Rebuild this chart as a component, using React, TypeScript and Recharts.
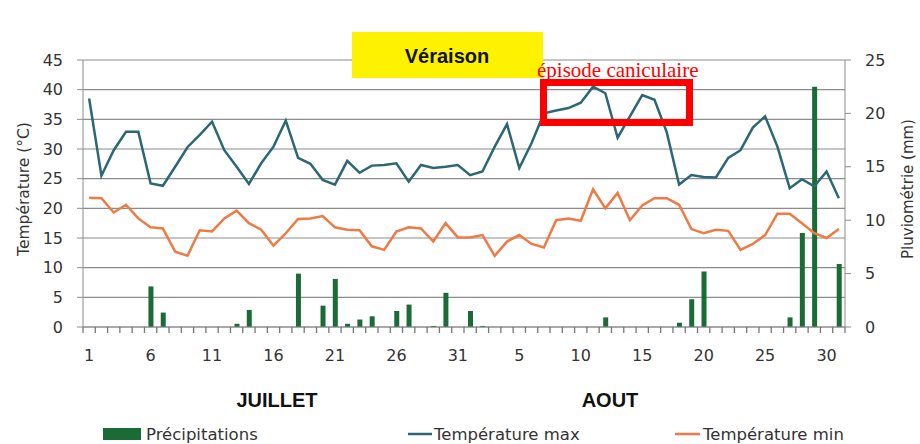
import React from "react";
import { ComposedChart, Bar, Line, XAxis, YAxis, CartesianGrid } from "recharts";

// days of July then August
const julyDays = [1, 2, 3, 4, 5, 6, 7, 8, 9, 10, 11, 12, 13, 14, 15, 16, 17, 18, 19, 20, 21, 22, 23, 24, 25, 26, 27, 28, 29, 30, 31];
const augustDays = [1, 2, 3, 4, 5, 6, 7, 8, 9, 10, 11, 12, 13, 14, 15, 16, 17, 18, 19, 20, 21, 22, 23, 24, 25, 26, 27, 28, 29, 30, 31];

const tempMax = [
  38.5, 25.5, 29.8, 32.9, 32.9, 24.2, 23.8, 27.0, 30.3, 32.4, 34.6, 29.8, 27.0, 24.1, 27.6, 30.4,
  34.8, 28.5, 27.5, 24.8, 24.0, 28.0, 26.0, 27.2, 27.3, 27.6, 24.5, 27.3, 26.8, 27.0, 27.3,
  25.6, 26.2, 30.4, 34.2, 26.8, 31.0, 36.0, 36.5, 36.9, 37.8, 40.5, 39.4, 31.9, 35.5, 39.1, 38.3,
  32.8, 24.0, 25.6, 25.3, 25.2, 28.5, 29.8, 33.6, 35.5, 30.4, 23.4, 24.9, 23.7, 26.2, 21.7,
];

const tempMin = [
  21.8, 21.7, 19.3, 20.6, 18.3, 16.8, 16.6, 12.7, 12.0, 16.3, 16.1, 18.3, 19.6, 17.5, 16.4, 13.7,
  15.8, 18.2, 18.3, 18.7, 16.8, 16.4, 16.3, 13.6, 13.0, 16.1, 16.8, 16.6, 14.4, 17.5, 15.1,
  15.1, 15.5, 12.0, 14.4, 15.5, 14.0, 13.4, 18.0, 18.3, 17.9, 23.2, 20.0, 22.6, 18.0, 20.5, 21.7,
  21.7, 20.6, 16.5, 15.8, 16.4, 16.2, 13.0, 14.0, 15.5, 19.1, 19.1, 17.5, 15.8, 15.0, 16.5,
];

const rain = [
  0, 0, 0, 0, 0, 3.8, 1.35, 0, 0, 0, 0, 0, 0.3, 1.6, 0, 0,
  0, 5.0, 0, 2.0, 4.5, 0.3, 0.7, 1.0, 0, 1.5, 2.1, 0, 0.1, 3.2, 0,
  1.5, 0.1, 0, 0, 0, 0, 0, 0, 0, 0, 0, 0.9, 0, 0, 0, 0,
  0, 0.4, 2.6, 5.2, 0, 0, 0, 0, 0, 0, 0.9, 8.8, 22.5, 0, 5.9,
];

const tempTicks = [0, 5, 10, 15, 20, 25, 30, 35, 40, 45];
const rainTicks = [0, 5, 10, 15, 20, 25];

const data = [
  ...julyDays.map((d, i) => ({ key: `07-${d}`, day: d, tmax: tempMax[i], tmin: tempMin[i], rain: rain[i] })),
  ...augustDays.map((d, i) => ({ key: `08-${d}`, day: d, tmax: tempMax[31 + i], tmin: tempMin[31 + i], rain: rain[31 + i] })),
];

const AXIS = "#8c8c8c";
const TXT = "#333";
const GREEN = "#1b6b36";
const TEAL = "#2c6775";
const ORANGE = "#ee7a45";
const FONT = "DejaVu Sans, sans-serif";

// excel-style ticks: a mark between every day, a label every 5 days
function DayTick(props: any) {
  const { x, y, payload } = props;
  const i = payload?.index ?? props.index ?? 0;
  const half = payload?.offset || 6.15;
  const row = data[i];
  return (
    <g>
      <line x1={x - half} x2={x - half} y1={y} y2={y + 6} stroke="#777" strokeWidth={1.3} />
      {i === data.length - 1 && <line x1={x + half} x2={x + half} y1={y} y2={y + 6} stroke="#777" strokeWidth={1.3} />}
      {i % 5 === 0 && (
        <text x={x} y={y + 34} textAnchor="middle" fontSize={16} fontFamily={FONT} fill={TXT}>
          {row ? row.day : ""}
        </text>
      )}
    </g>
  );
}

export default function App() {
  return (
    <div style={{ position: "absolute", left: 0, top: 0, width: 920, height: 444, background: "#fff" }}>
      <ComposedChart width={920} height={444} data={data} margin={{ top: 60, right: 0, left: 0, bottom: 77 }}>
        <CartesianGrid yAxisId="t" vertical={false} stroke={AXIS} strokeWidth={1.2} />
        <XAxis
          dataKey="key"
          height={40}
          interval={0}
          tickSize={0}
          tickMargin={0}
          tickLine={false}
          axisLine={{ stroke: AXIS }}
          tick={<DayTick />}
        />
        <YAxis
          yAxisId="t"
          orientation="left"
          width={83}
          domain={[0, 45]}
          ticks={tempTicks}
          tickSize={6}
          tickMargin={14}
          axisLine={{ stroke: AXIS }}
          tickLine={{ stroke: AXIS }}
          tick={{ fontSize: 16, fontFamily: FONT, fill: TXT }}
        />
        <YAxis
          yAxisId="r"
          orientation="right"
          width={75}
          domain={[0, 25]}
          ticks={rainTicks}
          tickSize={6}
          tickMargin={14}
          axisLine={{ stroke: AXIS }}
          tickLine={{ stroke: AXIS }}
          tick={{ fontSize: 16, fontFamily: FONT, fill: TXT }}
        />
        <Line yAxisId="t" type="linear" dataKey="tmin" stroke={ORANGE} strokeWidth={2.5} dot={false} isAnimationActive={false} />
        <Line yAxisId="t" type="linear" dataKey="tmax" stroke={TEAL} strokeWidth={2.5} dot={false} isAnimationActive={false} />
        <Bar yAxisId="r" dataKey="rain" fill={GREEN} barSize={5} isAnimationActive={false} />
      </ComposedChart>

      <svg width={920} height={444} style={{ position: "absolute", left: 0, top: 0, pointerEvents: "none" }}>
        <text transform="translate(24,189) rotate(-90)" textAnchor="middle" dominantBaseline="central" fontSize={15.5} fontFamily={FONT} fill={TXT}>
          Température (°C)
        </text>
        <text transform="translate(908,189) rotate(-90)" textAnchor="middle" dominantBaseline="central" fontSize={15} fontFamily={FONT} fill={TXT}>
          Pluviométrie (mm)
        </text>

        <text x={277} y={407} textAnchor="middle" fontSize={20} fontWeight="bold" fontFamily="Liberation Sans, Arial, sans-serif" fill="#111">
          JUILLET
        </text>
        <text x={610} y={407} textAnchor="middle" fontSize={20} fontWeight="bold" fontFamily="Liberation Sans, Arial, sans-serif" fill="#111">
          AOUT
        </text>

        <rect x={103} y={428} width={38} height={12} fill={GREEN} />
        <text x={146} y={440} fontSize={16.5} fontFamily={FONT} fill={TXT}>Précipitations</text>
        <line x1={408} x2={432} y1={434} y2={434} stroke={TEAL} strokeWidth={2.5} />
        <text x={434} y={440} fontSize={16.5} fontFamily={FONT} fill={TXT}>Température max</text>
        <line x1={675} x2={700} y1={434} y2={434} stroke={ORANGE} strokeWidth={2.5} />
        <text x={703} y={440} fontSize={16.5} fontFamily={FONT} fill={TXT}>Température min</text>

        <rect x={352} y={32} width={191} height={46} fill="#fff200" />
        <text x={447} y={63} textAnchor="middle" fontSize={20} fontWeight="bold" fontFamily="Liberation Sans, Arial, sans-serif" fill="#111">
          Véraison
        </text>

        <rect x={543.5} y={82.5} width={146} height={40} fill="none" stroke="#ff0000" strokeWidth={7} />
        <text x={537} y={77} fontSize={21} fontFamily="Liberation Serif, Times New Roman, serif" fill="#ff0000">
          épisode caniculaire
        </text>
      </svg>
    </div>
  );
}
